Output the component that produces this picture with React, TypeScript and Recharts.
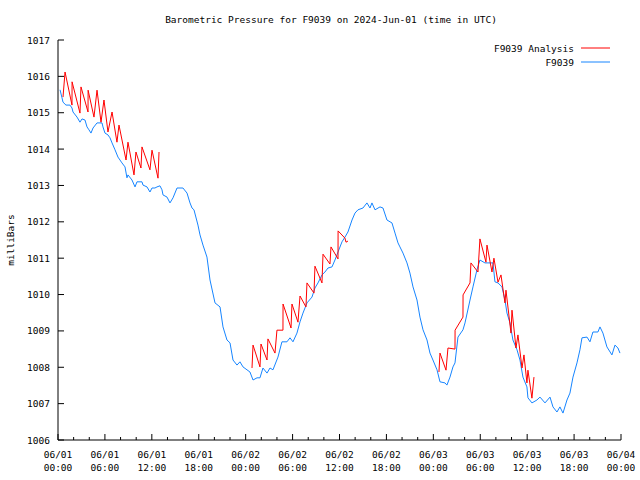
import React from 'react';
import { LineChart, Line, XAxis, YAxis } from 'recharts';

const titleText = 'Barometric Pressure for F9039 on 2024-Jun-01 (time in UTC)';
const yAxisTitle = 'milliBars';
const seriesAnalysis = 'F9039 Analysis';
const seriesObs = 'F9039';

const xTicks = [0, 2, 4, 6, 8, 10, 12, 14, 16, 18, 20, 22, 24, 26, 28, 30, 32, 34, 36, 38, 40, 42, 44, 46, 48, 50, 52, 54, 56, 58, 60, 62, 64, 66, 68, 70, 72];
const majorDates = ['06/01', '06/01', '06/01', '06/01', '06/02', '06/02', '06/02', '06/02', '06/03', '06/03', '06/03', '06/03', '06/04'];
const majorTimes = ['00:00', '06:00', '12:00', '18:00', '00:00', '06:00', '12:00', '18:00', '00:00', '06:00', '12:00', '18:00', '00:00'];
const yTicks = [1006, 1007, 1008, 1009, 1010, 1011, 1012, 1013, 1014, 1015, 1016, 1017];

// [hours since 06/01 00:00 UTC, millibars]
const blueObs: [number, number][] = [
  [0.26, 1015.63], [0.51, 1015.41], [0.64, 1015.29], [1.02, 1015.21], [1.53, 1015.21], [1.79, 1015.13], [1.92, 1015.02],
  [2.43, 1014.88], [2.81, 1014.74], [3.07, 1014.83], [3.45, 1014.8], [3.71, 1014.61], [3.96, 1014.53], [4.22, 1014.44],
  [4.48, 1014.58], [4.99, 1014.72], [5.63, 1014.72], [5.75, 1014.61], [6.01, 1014.44], [6.39, 1014.39], [6.65, 1014.31],
  [6.91, 1014.17], [7.29, 1013.98], [7.67, 1013.78], [8.18, 1013.62], [8.57, 1013.51], [8.82, 1013.21], [8.95, 1013.29],
  [9.46, 1013.15], [9.85, 1012.96], [10.1, 1013.1], [10.74, 1013.1], [10.87, 1013.01], [11.38, 1012.96], [11.76, 1012.82],
  [12.02, 1012.93], [12.4, 1012.93], [12.66, 1012.96], [13.04, 1012.99], [13.3, 1012.88], [13.43, 1012.74], [13.94, 1012.68],
  [14.32, 1012.52], [14.71, 1012.66], [15.22, 1012.93], [15.98, 1012.93], [16.5, 1012.79], [16.88, 1012.52], [17.14, 1012.38],
  [17.39, 1012.33], [17.9, 1011.91], [18.16, 1011.64], [18.54, 1011.36], [19.05, 1011.03], [19.44, 1010.4], [20.08, 1009.77],
  [20.72, 1009.66], [21.1, 1009.11], [21.61, 1008.75], [22.0, 1008.67], [22.38, 1008.2], [22.89, 1008.06], [23.27, 1008.15],
  [23.66, 1008.01], [24.17, 1007.93], [24.55, 1007.87], [24.94, 1007.65], [25.45, 1007.71], [25.83, 1007.71], [26.21, 1007.98],
  [26.73, 1007.84], [27.11, 1007.98], [27.49, 1007.93], [28.13, 1008.28], [28.64, 1008.7], [29.28, 1008.7], [29.67, 1008.81],
  [30.05, 1008.7], [30.56, 1008.94], [30.95, 1009.25], [31.33, 1009.49], [31.84, 1009.77], [32.48, 1009.93], [32.86, 1010.18],
  [33.25, 1010.32], [33.76, 1010.54], [34.14, 1010.62], [34.53, 1010.73], [35.04, 1010.76], [35.42, 1010.95], [35.81, 1011.17],
  [36.32, 1011.45], [36.7, 1011.58], [37.08, 1011.72], [37.6, 1012.05], [37.98, 1012.24], [38.36, 1012.33], [39.0, 1012.38],
  [39.51, 1012.52], [39.9, 1012.38], [40.15, 1012.52], [40.54, 1012.33], [41.18, 1012.41], [41.56, 1012.38], [42.07, 1012.05],
  [42.71, 1011.97], [43.1, 1011.69], [43.48, 1011.42], [43.73, 1011.31], [44.12, 1011.14], [44.63, 1010.87], [45.01, 1010.59],
  [45.4, 1010.21], [45.91, 1009.85], [46.29, 1009.38], [46.68, 1009.03], [47.19, 1008.75], [47.57, 1008.39], [47.95, 1008.2],
  [48.47, 1007.93], [48.85, 1007.6], [49.49, 1007.57], [49.74, 1007.51], [50.13, 1007.73], [50.51, 1008.01], [50.77, 1008.12],
  [51.15, 1008.83], [51.79, 1009.03], [52.05, 1009.22], [52.69, 1009.85], [53.07, 1010.21], [53.58, 1010.68], [53.96, 1010.95],
  [54.6, 1010.87], [54.99, 1010.87], [55.63, 1010.87], [55.88, 1010.35], [56.27, 1010.32], [56.78, 1010.21], [57.16, 1009.85],
  [57.42, 1009.49], [57.8, 1009.22], [58.18, 1008.75], [58.7, 1008.48], [59.08, 1008.2], [59.46, 1007.73], [59.97, 1007.46],
  [60.1, 1007.16], [60.61, 1007.02], [61.25, 1007.1], [61.64, 1007.18], [62.28, 1007.02], [62.92, 1007.18], [63.3, 1006.91],
  [63.81, 1006.77], [64.19, 1006.91], [64.58, 1006.74], [65.09, 1007.1], [65.47, 1007.29], [65.86, 1007.73], [66.37, 1008.12],
  [66.75, 1008.48], [67.01, 1008.81], [67.65, 1008.83], [68.03, 1008.7], [68.41, 1008.97], [69.05, 1008.97], [69.31, 1009.11],
  [69.69, 1008.94], [70.2, 1008.56], [70.84, 1008.34], [71.23, 1008.61], [71.61, 1008.53], [71.87, 1008.39],
];

const redRun1: [number, number][] = [
  [0.64, 1015.43], [0.9, 1016.12], [1.79, 1015.21], [1.8, 1015.85], [2.81, 1014.99], [2.94, 1015.71], [3.84, 1015.02],
  [3.85, 1015.62], [4.6, 1014.88], [4.99, 1015.62], [5.5, 1014.74], [5.88, 1015.35], [6.39, 1014.47], [6.91, 1015.02],
  [7.54, 1014.19], [7.8, 1014.66], [8.7, 1013.7], [8.95, 1014.19], [9.72, 1013.29], [9.97, 1013.92], [10.61, 1013.48],
  [10.74, 1014.06], [11.76, 1013.43], [12.02, 1013.97], [12.79, 1013.2], [12.92, 1013.92],
];

const redRun2: [number, number][] = [
  [24.81, 1007.98], [24.94, 1008.61], [25.83, 1008.01], [25.96, 1008.64], [26.73, 1008.2], [26.85, 1008.78], [27.75, 1008.39],
  [28.0, 1009.02], [28.77, 1009.02], [28.78, 1009.74], [29.8, 1009.08], [29.92, 1009.74], [30.69, 1009.24], [30.95, 1009.96],
  [31.71, 1009.66], [31.84, 1010.32], [32.74, 1010.04], [32.86, 1010.78], [33.76, 1010.32], [33.89, 1011.11], [34.78, 1010.84],
  [34.91, 1011.31], [35.81, 1010.98], [35.82, 1011.75], [36.7, 1011.55], [36.83, 1011.44], [37.08, 1011.47],
];

const redRun3: [number, number][] = [
  [48.72, 1007.87], [48.85, 1008.39], [49.62, 1007.92], [49.87, 1008.53], [50.77, 1008.5], [50.78, 1009.02], [51.79, 1009.38],
  [51.8, 1009.99], [52.69, 1010.32], [52.81, 1010.87], [53.71, 1010.62], [53.96, 1011.53], [54.73, 1010.89], [54.86, 1011.36],
  [55.5, 1010.62], [55.75, 1011.0], [56.27, 1010.34], [56.65, 1010.54], [57.16, 1009.77], [57.29, 1010.12], [57.93, 1008.94],
  [58.06, 1009.57], [58.57, 1008.53], [58.82, 1008.89], [59.34, 1007.98], [59.59, 1008.34], [59.97, 1007.57], [60.1, 1007.92],
  [60.61, 1007.15], [60.87, 1007.73],
];

const RED = '#ff0000';
const BLUE = '#1685ff';
const FONT = '"DejaVu Sans Mono", "Liberation Mono", monospace';
const FS = 9.5;

const rows = (pts: [number, number][]) => pts.map(([t, v]) => ({ t, v }));

const BottomTick = (props: any) => {
  const { x, y, payload } = props;
  const h = payload.value as number;
  const major = h % 6 === 0;
  const i = h / 6;
  return (
    <g>
      <line x1={x} y1={y} x2={x} y2={y - (major ? 6 : 3)} stroke="#000" />
      {major && (
        <text x={x} y={y + 18} textAnchor="middle" fontFamily={FONT} fontSize={FS} fill="#000">
          <tspan x={x}>{majorDates[i]}</tspan>
          <tspan x={x} dy={13}>{majorTimes[i]}</tspan>
        </text>
      )}
    </g>
  );
};

const TopTick = (props: any) => {
  const { x, y, payload } = props;
  const major = (payload.value as number) % 6 === 0;
  return <line x1={x} y1={y} x2={x} y2={y + (major ? 6 : 3)} stroke="#000" />;
};

const LeftTick = (props: any) => {
  const { x, y, payload } = props;
  return (
    <g>
      <line x1={x} y1={y} x2={x + 6} y2={y} stroke="#000" />
      <text x={x - 8} y={y + 3.5} textAnchor="end" fontFamily={FONT} fontSize={FS} fill="#000">
        {payload.value}
      </text>
    </g>
  );
};

const RightTick = (props: any) => {
  const { x, y } = props;
  return <line x1={x} y1={y} x2={x - 6} y2={y} stroke="#000" />;
};

export default function App() {
  return (
    <div style={{ position: 'absolute', left: 0, top: 0, width: 640, height: 480, background: '#fff' }}>
      <LineChart width={640} height={480} margin={{ top: 40, right: 19, bottom: 0, left: 0 }}>
        <XAxis
          xAxisId="b"
          dataKey="t"
          type="number"
          domain={[0, 72]}
          ticks={xTicks}
          interval={0}
          height={40}
          tickSize={0}
          tickMargin={0}
          tickLine={false}
          axisLine={{ stroke: '#000' }}
          tick={<BottomTick />}
          allowDataOverflow
        />
        <XAxis
          xAxisId="top"
          orientation="top"
          dataKey="t"
          type="number"
          domain={[0, 72]}
          ticks={xTicks}
          interval={0}
          height={0}
          tickSize={0}
          tickMargin={0}
          tickLine={false}
          axisLine={{ stroke: '#000' }}
          tick={<TopTick />}
          allowDataOverflow
        />
        <YAxis
          yAxisId="l"
          type="number"
          domain={[1006, 1017]}
          ticks={yTicks}
          interval={0}
          width={58}
          tickSize={0}
          tickMargin={0}
          tickLine={false}
          axisLine={{ stroke: '#000' }}
          tick={<LeftTick />}
          allowDataOverflow
        />
        <YAxis
          yAxisId="r"
          orientation="right"
          type="number"
          domain={[1006, 1017]}
          ticks={yTicks}
          interval={0}
          width={0}
          tickSize={0}
          tickMargin={0}
          tickLine={false}
          axisLine={{ stroke: '#000' }}
          tick={<RightTick />}
          allowDataOverflow
        />
        <Line xAxisId="b" yAxisId="l" data={rows(blueObs)} dataKey="v" name={seriesObs} type="linear" stroke={BLUE} strokeWidth={1} dot={false} isAnimationActive={false} />
        <Line xAxisId="b" yAxisId="l" data={rows(redRun1)} dataKey="v" name={seriesAnalysis} type="linear" stroke={RED} strokeWidth={1} dot={false} isAnimationActive={false} />
        <Line xAxisId="b" yAxisId="l" data={rows(redRun2)} dataKey="v" name={seriesAnalysis} type="linear" stroke={RED} strokeWidth={1} dot={false} isAnimationActive={false} />
        <Line xAxisId="b" yAxisId="l" data={rows(redRun3)} dataKey="v" name={seriesAnalysis} type="linear" stroke={RED} strokeWidth={1} dot={false} isAnimationActive={false} />
      </LineChart>
      <svg width={640} height={480} style={{ position: 'absolute', left: 0, top: 0, pointerEvents: 'none' }}>
        <text x={331} y={23} textAnchor="middle" fontFamily={FONT} fontSize={FS} fill="#000">{titleText}</text>
        <text x={14} y={240} textAnchor="middle" fontFamily={FONT} fontSize={FS} fill="#000" transform="rotate(-90 14 240)">{yAxisTitle}</text>
        <text x={574} y={52} textAnchor="end" fontFamily={FONT} fontSize={FS} fill="#000">{seriesAnalysis}</text>
        <line x1={581} y1={48} x2={610} y2={48} stroke={RED} />
        <text x={574} y={66} textAnchor="end" fontFamily={FONT} fontSize={FS} fill="#000">{seriesObs}</text>
        <line x1={581} y1={62} x2={610} y2={62} stroke={BLUE} />
      </svg>
    </div>
  );
}
